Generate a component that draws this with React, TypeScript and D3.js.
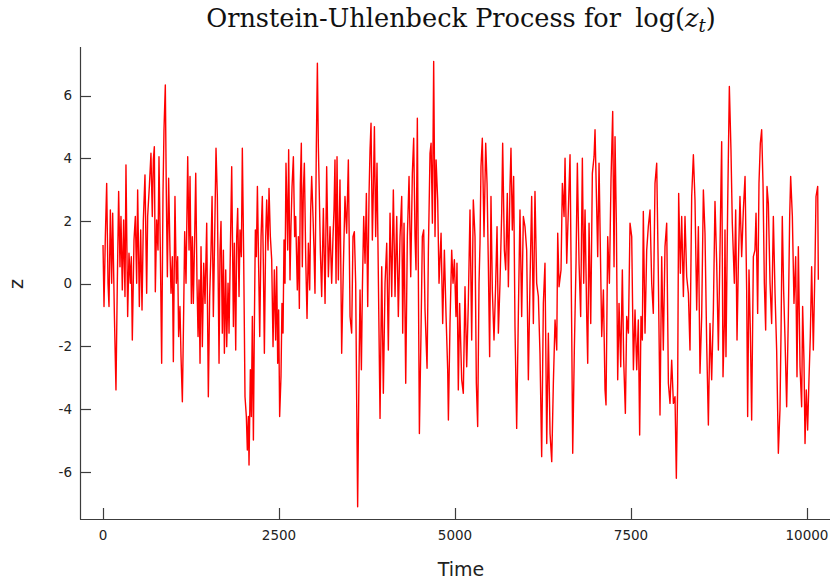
import React from "react";
import * as d3 from "d3";

type Pt = [number, number];

// Ornstein-Uhlenbeck path: [time, z] turning points, by time segment
const segA: Pt[] = [[0,1.23],[14,-0.73],[33,1.5],[52,3.2],[71,0.01],[85,-0.73],[104,2.35],[123,0.01],[137,2.25],[161,-0.95],[184,-3.39],[203,0.01],[222,2.94],[241,0.54],[255,2.14],[274,-0.2],[293,2.03],[312,-0.41],[326,3.79],[350,-1.05],[369,0.97],[388,0.01],[402,0.86],[416,-1.8],[440,1.39],[459,2.14],[478,0.01],[492,2.99],[516,-0.73],[535,1.71],[554,-0.84],[573,2.03],[596,3.47],[620,-0.31],[634,2.14],[658,3.1],[681,4.16],[700,2.14],[715,3.95],[729,4.37],[743,-0.26],[762,2.03],[781,1.07],[795,4.05],[814,1.07],[833,-2.54],[852,2.88],[866,4.91],[885,6.34],[899,2.88],[914,0.22],[932,3.36],[951,1.07],[966,-0.31],[985,0.86],[999,-2.49],[1022,2.78],[1041,0.01],[1060,0.86],[1074,-1.69],[1093,-0.73],[1108,-2.33],[1127,-3.77],[1146,-0.84],[1160,1.66]];
const segB: Pt[] = [[1179,0.01],[1203,4.05],[1222,1.07],[1236,3.42],[1255,-0.63],[1269,1.5],[1283,-0.63],[1302,1.5],[1317,3.52],[1335,0.01],[1350,-1.69],[1364,0.12],[1378,-2.54],[1392,1.18],[1411,-2.01],[1430,0.65],[1449,-0.63],[1473,1.93],[1496,-3.61],[1515,-0.41],[1534,1.07],[1549,2.78],[1567,-1.05],[1586,1.5],[1605,4.32],[1624,2.78],[1648,-2.54],[1662,1.07],[1676,1.98],[1695,-1.58],[1710,1.07],[1724,-2.22],[1743,0.44],[1757,-2.01],[1776,0.01],[1790,-1.58],[1809,1.07],[1828,3.73],[1852,-1.37],[1866,1.29],[1885,-2.12],[1899,1.5],[1913,2.4],[1932,-0.41],[1946,1.71],[1965,0.86],[1979,4.32],[1998,0.86],[2017,-3.61],[2036,-4.24],[2050,-5.31],[2065,-4.24],[2074,-5.79],[2093,-2.75],[2107,-4.24],[2121,-1.05],[2136,-4.99],[2150,-1.27],[2164,1.71],[2178,0.86],[2193,3.1],[2207,1.07],[2226,-1.69],[2245,1.5],[2263,2.78],[2278,0.54],[2292,-2.22],[2311,1.5],[2325,2.67],[2344,1.07],[2358,3.04],[2377,1.5],[2396,0.76],[2415,-2.01],[2434,0.44]];
const segC: Pt[] = [[2452,-1.8],[2467,0.54],[2481,-2.54],[2495,-0.84],[2509,-4.24],[2528,-2.97],[2542,-0.63],[2557,-1.58],[2571,1.39],[2585,0.01],[2599,3.84],[2614,2.25],[2623,1.07],[2637,4.27],[2656,0.12],[2670,1.82],[2685,3.1],[2704,4.05],[2722,1.5],[2737,2.14],[2760,-0.2],[2775,1.5],[2789,-0.79],[2803,3.2],[2817,4.48],[2831,0.54],[2846,2.99],[2860,3.84],[2879,0.86],[2898,-1.11],[2917,1.29],[2936,-0.2],[2950,2.35],[2964,3.42],[2983,2.14],[2997,1.07],[3011,-0.31],[3030,4.37],[3045,7.03],[3059,4.37],[3073,2.78],[3087,1.07],[3106,-0.41],[3130,2.4],[3154,-0.63],[3177,3.73],[3201,0.22],[3225,1.82],[3248,0.01],[3267,1.5],[3281,2.35],[3295,3.95],[3310,0.01],[3324,4.05],[3343,0.12],[3366,3.31],[3390,-2.22],[3414,0.54],[3437,2.78],[3461,1.61],[3485,3.95],[3509,-1.05],[3532,-1.58],[3551,1.5],[3570,1.66],[3589,0.01],[3603,-3.71],[3617,-7.12],[3636,-2.86],[3651,-0.2],[3670,-2.75],[3684,-0.2],[3703,2.14],[3722,0.65]];
const segD: Pt[] = [[3741,2.88],[3760,-0.73],[3779,2.88],[3793,4.27],[3807,5.12],[3826,1.39],[3840,2.99],[3855,5.01],[3873,1.5],[3892,3.84],[3911,0.22],[3935,-4.3],[3959,0.54],[3982,-3.5],[4006,0.01],[4030,1.29],[4053,-2.12],[4077,2.25],[4101,-0.41],[4124,2.99],[4148,-0.41],[4172,2.14],[4195,-1.05],[4219,1.5],[4243,2.78],[4257,-1.58],[4276,1.93],[4300,-3.18],[4323,1.5],[4347,3.42],[4371,0.22],[4394,3.52],[4413,4.64],[4432,1.5],[4446,0.44],[4465,5.28],[4480,0.01],[4494,-4.78],[4517,-1.58],[4536,1.5],[4555,1.71],[4574,-0.84],[4603,-2.7],[4622,1.07],[4645,4.16],[4660,4.48],[4679,1.93],[4697,7.09],[4716,1.5],[4731,3.95],[4754,2.67],[4773,0.01],[4802,1.61],[4825,-1.27],[4849,1.07],[4873,-1.05],[4896,-2.75],[4906,-4.35],[4929,-1.27],[4953,1.07],[4972,0.01],[4991,0.76]];
const segE: Pt[] = [[5014,-1.05],[5028,0.65],[5047,-3.39],[5066,-0.63],[5095,-3.07],[5118,-3.5],[5142,-0.1],[5166,-2.65],[5189,-0.63],[5213,2.35],[5237,-1.8],[5260,2.67],[5284,1.5],[5303,-3.18],[5322,-4.56],[5341,0.01],[5355,1.29],[5369,3.73],[5388,4.64],[5412,1.5],[5436,4.48],[5455,3.2],[5474,0.54],[5492,-2.33],[5511,2.78],[5530,-0.2],[5554,-1.8],[5578,0.01],[5597,1.82],[5616,-1.58],[5639,0.01],[5663,2.25],[5677,4.48],[5701,1.07],[5720,0.44],[5743,2.88],[5758,-0.1],[5781,3.1],[5795,4.32],[5814,1.71],[5833,3.42],[5852,-1.37],[5876,-4.62],[5900,-0.95],[5923,2.35],[5947,-1.05],[5971,2.14],[5994,1.82],[6018,1.07],[6042,-3.07],[6065,0.01],[6089,2.78],[6113,-1.27],[6136,2.94],[6160,0.01],[6184,-0.41],[6207,-2.22],[6231,-5.52],[6255,-0.63],[6278,0.65]];
const segF: Pt[] = [[6303,-5.1],[6326,-1.58],[6350,-4.78],[6374,-5.68],[6397,-3.18],[6421,-1.16],[6445,-2.12],[6459,1.61],[6478,-0.1],[6506,0.44],[6525,3.2],[6549,2.14],[6563,4.0],[6587,0.65],[6610,2.35],[6634,4.11],[6658,-1.58],[6672,-5.41],[6695,-2.12],[6719,0.65],[6738,3.84],[6762,0.65],[6785,-1.05],[6809,4.0],[6828,0.01],[6847,2.35],[6871,-1.05],[6885,-2.54],[6904,1.93],[6928,-1.27],[6951,3.52],[6975,4.05],[6989,4.91],[7013,2.35],[7027,0.86],[7046,3.84],[7065,1.07],[7084,-1.69],[7108,-0.2],[7131,-3.39],[7145,-3.87],[7169,1.5],[7193,0.01],[7216,3.31],[7240,5.49],[7259,0.54],[7273,4.69],[7292,1.93],[7311,-3.07],[7330,-0.63],[7354,-2.65],[7377,0.44],[7396,-2.44],[7420,-4.14],[7439,-1.05],[7463,-1.58],[7486,1.93],[7510,1.5],[7534,-2.75],[7557,-0.84]];
const segG: Pt[] = [[7581,-2.75],[7604,-1.16],[7623,-4.83],[7642,-1.05],[7661,-1.8],[7675,2.3],[7699,-1.58],[7723,1.07],[7746,1.82],[7770,2.35],[7794,0.01],[7817,-0.95],[7841,3.2],[7865,3.84],[7888,0.33],[7912,-4.19],[7936,0.86],[7959,-2.12],[7983,1.18],[8007,1.93],[8031,-3.18],[8054,-3.82],[8078,-2.44],[8102,-3.82],[8125,-3.61],[8144,-6.21],[8163,-3.18],[8177,2.88],[8201,0.33],[8220,2.14],[8244,-0.41],[8267,2.14],[8291,0.22],[8315,-0.31],[8338,-2.12],[8362,2.78],[8386,4.11],[8409,2.67],[8433,-0.84],[8457,1.82],[8480,-2.86],[8504,-1.05],[8528,2.99],[8551,1.61],[8575,-1.9],[8599,-4.51],[8622,-1.27],[8646,-3.07],[8670,-0.84],[8693,2.62],[8717,0.65],[8741,-2.12],[8764,1.07],[8779,3.31],[8788,4.53],[8807,-2.97],[8826,-1.27]];
const segH: Pt[] = [[8835,1.71],[8849,-2.33],[8873,2.46],[8897,6.29],[8920,4.27],[8939,1.93],[8968,0.01],[8987,2.35],[9006,-1.8],[9025,0.65],[9048,2.78],[9072,0.86],[9096,2.35],[9120,3.42],[9143,-0.2],[9157,-4.24],[9176,0.44],[9195,-1.48],[9214,-4.35],[9238,0.86],[9261,1.07],[9276,2.25],[9299,-0.95],[9318,3.2],[9337,4.48],[9356,4.91],[9375,3.2],[9394,0.01],[9413,-1.48],[9432,3.1],[9451,2.56],[9475,0.01],[9498,-1.27],[9522,2.14],[9546,-0.31],[9569,-2.12],[9593,-5.41],[9616,-4.03],[9631,-1.58],[9649,2.14],[9668,-0.2],[9687,-1.69],[9711,-3.93],[9735,-1.05],[9754,2.14],[9768,3.42],[9792,2.14],[9815,-0.63],[9839,0.86],[9858,-2.97],[9877,1.18],[9901,-2.65],[9924,-3.93],[9938,-0.73],[9957,-2.44],[9972,-5.1],[9990,-3.39],[10009,-4.67],[10028,-3.07],[10047,-1.69],[10066,0.54],[10090,-2.12],[10114,0.65],[10128,2.78],[10152,3.1],[10161,0.12]];

const xTicks = [0, 2500, 5000, 7500, 10000];
const yTicks = [-6, -4, -2, 0, 2, 4, 6];
const xDomain: [number, number] = [-327, 10483];
const yDomain: [number, number] = [-7.51, 7.55];

const W = 830;
const H = 583;
const M = { left: 80, right: 841, top: 47, bottom: 519 };
const AXIS = "#3c3c3c";
const TICK_FONT = "'DejaVu Sans', sans-serif";

export default function App() {
  const data: Pt[] = [...segA, ...segB, ...segC, ...segD, ...segE, ...segF, ...segG, ...segH];
  const x = d3.scaleLinear().domain(xDomain).range([M.left, M.right]);
  const y = d3.scaleLinear().domain(yDomain).range([M.bottom, M.top]);
  const path = d3.line<Pt>().x((d) => x(d[0])).y((d) => y(d[1]))(data) || "";
  const tickLen = 11;

  return (
    <svg width={W} height={H} style={{ position: "absolute", left: 0, top: 0, background: "#fff" }}>
      <rect x={0} y={0} width={W} height={H} fill="#fff" />
      <path d={path} fill="none" stroke="#ff0000" strokeWidth={1.4} strokeLinejoin="round" />
      {/* axes */}
      <line x1={M.left + 0.5} x2={M.left + 0.5} y1={M.top} y2={M.bottom + 0.5} stroke={AXIS} strokeWidth={1.2} />
      <line x1={M.left} x2={M.right} y1={M.bottom + 0.5} y2={M.bottom + 0.5} stroke={AXIS} strokeWidth={1.2} />
      {yTicks.map((t) => (
        <g key={"y" + t}>
          <line x1={M.left} x2={M.left + tickLen} y1={Math.round(y(t)) + 0.5} y2={Math.round(y(t)) + 0.5} stroke={AXIS} strokeWidth={1.2} />
          <text x={72} y={y(t)} dy="0.36em" textAnchor="end" fontFamily={TICK_FONT} fontSize={13.5} fill="#222">
            {t}
          </text>
        </g>
      ))}
      {xTicks.map((t) => (
        <g key={"x" + t}>
          <line x1={Math.round(x(t)) + 0.5} x2={Math.round(x(t)) + 0.5} y1={M.bottom} y2={M.bottom - tickLen} stroke={AXIS} strokeWidth={1.2} />
          <text x={x(t)} y={540} textAnchor="middle" fontFamily={TICK_FONT} fontSize={13.5} fill="#222">
            {t}
          </text>
        </g>
      ))}
      <text x={461} y={576} textAnchor="middle" fontFamily={TICK_FONT} fontSize={19} fill="#222">
        Time
      </text>
      <text transform="translate(23,284) rotate(-90)" textAnchor="middle" fontFamily={TICK_FONT} fontSize={19} fill="#222">
        z
      </text>
      <text x={461} y={27} textAnchor="middle" fontFamily="'DejaVu Serif', serif" fontSize={25.6} fill="#111">
        <tspan>Ornstein-Uhlenbeck Process for </tspan>
        <tspan dx={6}>log(</tspan>
        <tspan fontStyle="italic">z</tspan>
        <tspan fontStyle="italic" fontSize={18} dy={5}>t</tspan>
        <tspan dy={-5}>)</tspan>
      </text>
    </svg>
  );
}
